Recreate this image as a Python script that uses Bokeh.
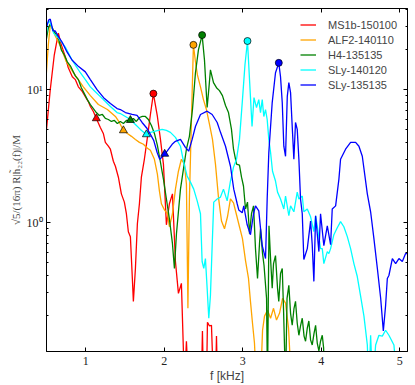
from bokeh.plotting import figure
from bokeh.models import (Range1d, LogAxis, LinearAxis, FixedTicker, Legend, LegendItem,
                          CustomJSTickFormatter)
from bokeh.embed import file_html
from bokeh.resources import INLINE

# ---------------- data ----------------
labels = ["MS1b-150100", "ALF2-140110", "H4-135135", "SLy-140120", "SLy-135135"]
colors = ["#ff0000", "#ffa500", "#008000", "#00ffff", "#0000ff"]

red_f = [0.5, 0.548, 0.599, 0.651, 0.689, 0.740, 0.778, 0.829, 0.867, 0.906, 0.957, 0.995, 1.033, 1.059, 1.097,
         1.135, 1.186, 1.224, 1.250, 1.288, 1.314, 1.352, 1.378, 1.416, 1.454, 1.492, 1.518, 1.543, 1.569, 1.594,
         1.607, 1.633, 1.658, 1.684, 1.709, 1.747, 1.786, 1.824, 1.862, 1.913, 1.952, 1.990, 2.028, 2.066, 2.105,
         2.143, 2.181, 2.219, 2.258, 2.283, 2.309, 2.474, 2.487, 2.500, 2.538, 2.551, 2.577, 2.602, 2.628, 2.653,
         2.666, 2.679]
red_y = [5.03, 10.0, 18.2, 26.6, 21.7, 17.6, 14.6, 12.5, 11.9, 10.5, 9.66, 8.87, 8.14, 7.47, 6.85,
         6.08, 5.20, 4.69, 4.02, 3.76, 3.57, 2.90, 2.66, 2.20, 1.65, 1.43, 1.17, 0.857, 0.787, 0.382,
         0.257, 0.454, 0.983, 1.39, 2.20, 3.00, 4.38, 6.51, 9.34, 6.29, 4.23, 2.76, 0.966, 1.39, 1.65,
         0.512, 0.295, 0.351, 0.06, 0.129, 0.06, 0.06, 0.154, 0.06, 0.06, 0.179, 0.168, 0.170, 0.06, 0.06,
         0.141, 0.06]

orange_f = [0.497, 0.523, 0.548, 0.574, 0.612, 0.676, 0.753, 0.842, 0.906, 0.969,
            1.059, 1.161, 1.276, 1.378, 1.429, 1.480, 1.531, 1.582, 1.633, 1.684,
            1.735, 1.786, 1.824, 1.875, 1.913, 1.939, 1.964, 2.003, 2.041, 2.066,
            2.105, 2.143, 2.181, 2.219, 2.258, 2.283, 2.302, 2.321, 2.347, 2.372,
            2.398, 2.423, 2.462, 2.500, 2.538, 2.577, 2.615, 2.653, 2.691, 2.730,
            2.768, 2.806, 2.844, 2.883, 2.921, 2.959, 2.997, 3.036, 3.074, 3.099,
            3.125, 3.150, 3.176, 3.227, 3.253, 3.278, 3.316, 3.355, 3.393, 3.431,
            3.469, 3.508, 3.546, 3.584, 3.622]
orange_y = [12.9, 21.7, 30.5, 29.0, 25.3, 21.3, 16.2, 13.4, 11.9, 10.5,
            9.02, 7.73, 7.09, 6.29, 5.67, 4.94, 4.69, 4.46, 4.23, 4.02,
            3.89, 3.63, 3.51, 3.00, 2.32, 1.73, 1.39, 1.25, 1.17, 0.934,
            1.17, 1.79, 2.44, 3.00, 2.76, 1.95, 0.228, 1.51, 5.97, 21.7,
            16.2, 12.9, 10.5, 8.42, 7.09, 5.48, 4.23, 2.76, 1.56, 1.03,
            0.902, 1.11, 1.51, 1.41, 1.15, 0.934, 0.760, 0.520, 0.382, 0.257,
            0.176, 0.125, 0.06, 0.06, 0.156, 0.199, 0.220, 0.192, 0.228, 0.186,
            0.209, 0.271, 0.249, 0.162, 0.06]

green_f = [0.497, 0.523, 0.548, 0.587, 0.625, 0.651, 0.689, 0.727, 0.765, 0.804,
           0.829, 0.867, 0.906, 0.944, 0.982, 1.020, 1.059, 1.097, 1.135, 1.173,
           1.212, 1.250, 1.288, 1.327, 1.365, 1.403, 1.441, 1.480, 1.518, 1.569,
           1.607, 1.645, 1.684, 1.722, 1.760, 1.798, 1.837, 1.875, 1.913, 1.952,
           1.990, 2.028, 2.066, 2.105, 2.130, 2.156, 2.181, 2.207, 2.245, 2.283,
           2.321, 2.360, 2.398, 2.436, 2.483, 2.513, 2.547, 2.570, 2.589, 2.628,
           2.666, 2.704, 2.742, 2.781, 2.819, 2.857, 2.883, 2.921, 2.959, 2.985,
           3.010, 3.036, 3.061, 3.087, 3.112, 3.138, 3.163, 3.189, 3.214, 3.227,
           3.253, 3.272, 3.304, 3.316, 3.335, 3.355, 3.376, 3.393, 3.418, 3.444,
           3.460, 3.482, 3.504, 3.520, 3.546, 3.565, 3.588, 3.610, 3.631, 3.654,
           3.673, 3.695, 3.716, 3.737, 3.759, 3.782, 3.801, 3.823, 3.843, 3.865,
           3.886, 3.909, 3.929, 3.950, 3.971, 3.992, 4.014, 4.031, 4.043]
green_y = [23.6, 29.0, 31.1, 28.0, 25.7, 24.4, 19.9, 18.2, 16.2, 15.1,
           14.1, 12.7, 11.9, 10.35, 9.34, 8.42, 7.73, 7.21, 6.73, 6.40,
           6.51, 6.08, 5.97, 5.77, 5.87, 5.57, 5.77, 5.57, 5.87, 5.87,
           6.08, 5.77, 6.18, 6.29, 6.29, 5.97, 5.38, 4.69, 3.82, 2.85,
           2.13, 1.51, 1.07, 0.697, 0.454, 0.828, 1.21, 1.79, 2.53, 3.57,
           4.46, 7.09, 13.4, 19.9, 25.7, 16.7, 7.34, 10.35, 14.1, 11.3,
           10.35, 9.84, 9.02, 7.60, 6.73, 5.03, 3.57, 2.76, 2.71, 2.20,
           1.89, 1.27, 1.43, 0.828, 1.17, 1.34, 0.640, 0.382, 0.697, 0.902,
           0.587, 0.478, 0.271, 0.06, 0.950, 0.539, 0.322, 0.494, 0.567, 0.322,
           0.257, 0.416, 0.454, 0.228, 0.06, 0.271, 0.339, 0.209, 0.170, 0.228,
           0.257, 0.176, 0.143, 0.168, 0.192, 0.141, 0.129, 0.162, 0.183, 0.132,
           0.121, 0.148, 0.170, 0.125, 0.109, 0.129, 0.143, 0.115, 0.06]

cyan_f = [0.497, 0.514, 0.540, 0.561, 0.591, 0.625, 0.654, 0.702, 0.740, 0.778,
          0.825, 0.880, 0.931, 0.995, 1.059, 1.122, 1.186, 1.250, 1.314, 1.399,
          1.441, 1.505, 1.569, 1.633, 1.696, 1.773, 1.824, 1.888, 1.973, 2.028,
          2.079, 2.143, 2.207, 2.245, 2.292, 2.334, 2.376, 2.420, 2.462, 2.483,
          2.504, 2.525, 2.547, 2.568, 2.589, 2.611, 2.631, 2.675, 2.717, 2.755,
          2.802, 2.844, 2.883, 2.921, 2.959, 2.997, 3.029, 3.061, 3.087, 3.119,
          3.144, 3.176, 3.205, 3.227, 3.249, 3.269, 3.291, 3.312, 3.333, 3.355,
          3.380, 3.418, 3.444, 3.482, 3.524, 3.546, 3.588, 3.610, 3.652, 3.695,
          3.716, 3.759, 3.779, 3.823, 3.865, 3.907, 3.929, 3.950, 3.992, 4.014,
          4.034, 4.078, 4.098, 4.120, 4.162, 4.205, 4.247, 4.289, 4.333, 4.375,
          4.417, 4.460, 4.503, 4.545, 4.588, 4.608, 4.630, 4.656, 4.694, 4.736,
          4.779, 4.821, 4.863, 4.927, 4.971]
cyan_y = [25.7, 31.6, 32.7, 30.0, 26.6, 25.3, 24.4, 22.4, 20.9, 18.9,
          16.7, 14.9, 13.4, 11.9, 10.5, 9.66, 8.87, 8.14, 7.47, 6.73,
          6.62, 6.29, 5.97, 5.48, 5.03, 4.61, 4.78, 4.89, 5.03, 4.94,
          4.78, 4.38, 3.76, 2.90, 2.24, 2.02, 1.79, 1.46, 1.17, 0.512,
          0.454, 0.539, 0.322, 0.192, 0.285, 0.673, 1.43, 1.51, 1.56, 1.79,
          1.46, 2.06, 2.62, 3.00, 4.23, 8.42, 15.4, 23.2, 11.9, 5.29,
          8.71, 7.34, 8.42, 6.73, 8.42, 6.29, 7.09, 5.97, 4.23, 3.39,
          2.44, 2.06, 1.70, 1.51, 1.27, 1.59, 1.13, 1.34, 1.21, 1.70,
          1.51, 1.59, 1.21, 1.27, 1.11, 0.857, 1.13, 0.950, 0.640, 0.640,
          0.494, 0.608, 0.587, 0.640, 0.814, 0.918, 1.02, 0.934, 0.787, 0.640,
          0.494, 0.395, 0.280, 0.199, 0.121, 0.06, 0.143, 0.06, 0.121, 0.143,
          0.141, 0.156, 0.143, 0.121, 0.06]

blue_f = [0.497, 0.527, 0.548, 0.583, 0.612, 0.654, 0.698, 0.761, 0.825, 0.909,
          0.995, 1.059, 1.144, 1.228, 1.314, 1.399, 1.441, 1.505, 1.591, 1.654,
          1.718, 1.782, 1.824, 1.866, 1.909, 1.943, 2.006, 2.037, 2.101, 2.143,
          2.207, 2.270, 2.312, 2.356, 2.398, 2.462, 2.547, 2.611, 2.675, 2.717,
          2.781, 2.844, 2.886, 2.930, 2.950, 2.994, 3.014, 3.036, 3.057, 3.099,
          3.138, 3.163, 3.205, 3.249, 3.291, 3.312, 3.333, 3.376, 3.418, 3.460,
          3.482, 3.504, 3.524, 3.546, 3.568, 3.588, 3.610, 3.631, 3.652, 3.673,
          3.695, 3.716, 3.737, 3.759, 3.779, 3.823, 3.865, 3.886, 3.907, 3.929,
          3.971, 3.992, 4.034, 4.078, 4.120, 4.141, 4.184, 4.226, 4.247, 4.311,
          4.375, 4.439, 4.481, 4.524, 4.588, 4.630, 4.672, 4.716, 4.758, 4.792,
          4.821, 4.843, 4.863, 4.907, 4.949, 4.991, 5.034, 5.076, 5.102]
blue_y = [29.0, 33.3, 33.9, 27.6, 27.6, 24.9, 22.8, 19.2, 16.7, 14.9,
          13.6, 11.9, 10.0, 8.71, 7.87, 7.21, 7.09, 6.73, 6.51, 6.40,
          5.67, 5.11, 4.61, 4.16, 3.39, 3.00, 3.27, 3.45, 3.89, 4.09,
          4.23, 3.69, 3.45, 4.23, 5.29, 6.51, 6.89, 6.51, 5.67, 4.78,
          3.76, 2.66, 1.79, 1.39, 1.25, 1.19, 1.34, 1.13, 0.966, 0.814,
          1.17, 1.34, 1.23, 0.673, 0.539, 1.51, 3.39, 8.00, 13.4, 15.9,
          12.5, 8.00, 3.76, 3.16, 8.87, 11.3, 9.50, 5.29, 3.00, 5.67,
          5.03, 3.00, 1.51, 1.17, 0.530, 0.640, 1.03, 0.685, 0.363, 1.13,
          0.608, 1.17, 0.673, 0.950, 0.685, 1.27, 1.34, 2.13, 3.00, 3.57,
          4.02, 4.02, 3.76, 3.16, 1.65, 1.21, 0.760, 0.454, 0.271, 0.154,
          0.240, 0.382, 0.402, 0.539, 0.494, 0.539, 0.512, 0.587, 0.587]

# peak (circle) and contact (triangle) markers, one per model
peak_f = [1.862, 2.372, 2.483, 3.061, 3.460]
peak_y = [9.34, 21.7, 25.7, 23.2, 15.9]
tri_f = [1.135, 1.480, 1.569, 1.773, 2.006]
tri_y = [6.08, 4.94, 5.90, 4.61, 3.29]

x_ticks = [1, 2, 3, 4, 5]
y_major = [1, 10]
y_minor = [0.2, 0.3, 0.4, 0.5, 0.6, 0.7, 0.8, 0.9, 2, 3, 4, 5, 6, 7, 8, 9, 20, 30, 40]
y_tick_labels = {1: "10⁰", 10: "10¹"}

series_f = [red_f, orange_f, green_f, cyan_f, blue_f]
series_y = [red_y, orange_y, green_y, cyan_y, blue_y]

# ---------------- figure ----------------
p = figure(width=410, height=385,
           x_range=Range1d(0.5, 5.1), y_range=Range1d(0.108, 40.7),
           y_axis_type="log", output_backend="svg", toolbar_location=None,
           min_border_left=46, min_border_right=3, min_border_top=8, min_border_bottom=32)
p.xgrid.visible = False
p.ygrid.visible = False
p.outline_line_color = "black"
p.outline_line_width = 1
p.background_fill_color = "white"
p.border_fill_color = "white"

renderers = []
for fx, fy, c in zip(series_f, series_y, colors):
    r = p.line(fx, fy, line_color=c, line_width=1.3)
    renderers.append(r)

for i, c in enumerate(colors):
    p.scatter([tri_f[i]], [tri_y[i]], marker="triangle", size=8, fill_color=c,
              line_color="black", line_width=0.7)
    p.scatter([peak_f[i]], [peak_y[i]], marker="circle", size=7, fill_color=c,
              line_color="black", line_width=0.7)

# axes
tick_font = "Liberation Serif"
xa = p.xaxis[0]
xa.ticker = FixedTicker(ticks=x_ticks, minor_ticks=[])
ya = p.yaxis[0]
ya.ticker = FixedTicker(ticks=y_major, minor_ticks=y_minor)
ya.major_label_overrides = y_tick_labels
for ax in (xa, ya):
    ax.major_tick_in = 4
    ax.major_tick_out = 0
    ax.minor_tick_in = 2
    ax.minor_tick_out = 0
    ax.axis_line_color = "black"
    ax.major_tick_line_color = "black"
    ax.minor_tick_line_color = "black"
    ax.major_label_text_font = tick_font
    ax.major_label_text_font_size = "12px"
    ax.major_label_text_color = "#222222"

xa.major_label_standoff = 5
xa.axis_label = "f [kHz]"
xa.axis_label_text_font = "Liberation Sans"
xa.axis_label_text_font_style = "normal"
xa.axis_label_text_font_size = "12px"
xa.axis_label_standoff = 1

ya.major_label_standoff = 4
ya.axis_label = "√5/(16π) R|h̃₂₂(f)|/M"
ya.axis_label_text_font = "Liberation Serif"
ya.axis_label_text_font_style = "normal"
ya.axis_label_text_font_size = "11px"
ya.axis_label_standoff = 2

blank = CustomJSTickFormatter(code="return ''")
top = LinearAxis(ticker=FixedTicker(ticks=x_ticks, minor_ticks=[]), formatter=blank,
                 major_label_standoff=0,
                 major_tick_in=4, major_tick_out=0, minor_tick_in=0, minor_tick_out=0,
                 axis_line_color="black")
right = LogAxis(ticker=FixedTicker(ticks=y_major, minor_ticks=y_minor), formatter=blank,
                major_label_standoff=0,
                major_tick_in=4, major_tick_out=0, minor_tick_in=2, minor_tick_out=0,
                axis_line_color="black")
p.add_layout(top, "above")
p.add_layout(right, "right")

legend = Legend(items=[LegendItem(label=l, renderers=[r]) for l, r in zip(labels, renderers)],
                location=(254, 259), margin=0, padding=5, spacing=0,
                glyph_width=16, glyph_height=15, label_height=15, label_standoff=12,
                label_text_font="Liberation Sans", label_text_font_size="11px",
                border_line_color=None, background_fill_alpha=0)
p.add_layout(legend)

open("out.html", "w").write(file_html(p, INLINE))
